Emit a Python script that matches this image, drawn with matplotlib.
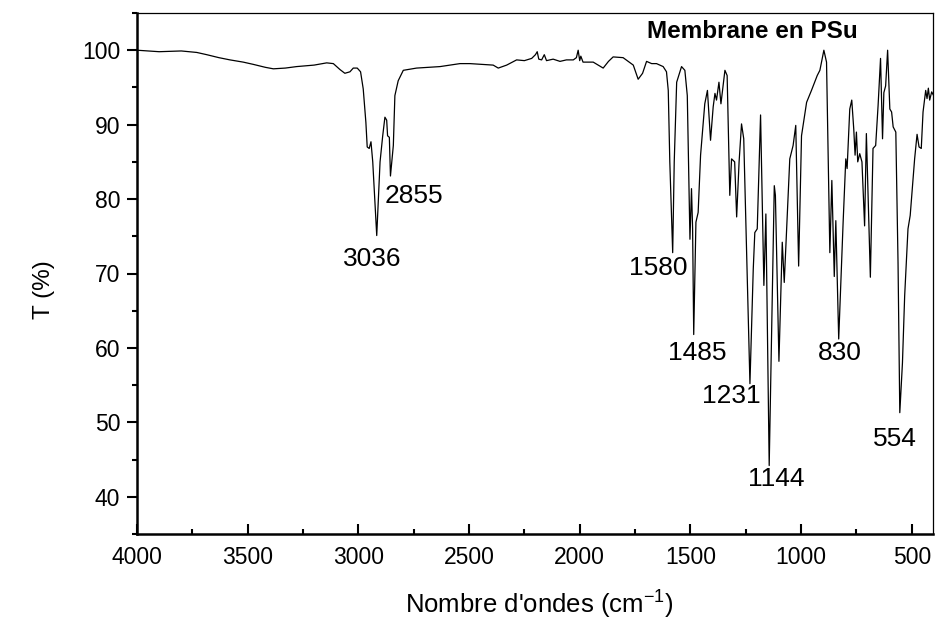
import matplotlib
matplotlib.use("Agg")
import matplotlib.pyplot as plt
from matplotlib.ticker import MultipleLocator

plt.rcParams['font.family'] = ['Liberation Sans', 'DejaVu Sans']
plt.rcParams['mathtext.fontset'] = 'custom'
plt.rcParams['mathtext.rm'] = 'Liberation Sans'
plt.rcParams['mathtext.default'] = 'regular'

# FTIR spectrum of the polysulfone membrane (wavenumber in cm-1, transmittance in %)
wavenumber = [
    4000, 3900, 3800, 3730, 3685, 3630, 3580, 3520, 3475, 3420, 3384, 3330, 3279,
    3200, 3143, 3113, 3083, 3061, 3038, 3023, 3005, 2990, 2978, 2966, 2960, 2951,
    2943, 2935, 2917, 2902, 2890, 2880, 2872, 2868, 2860, 2855, 2842, 2835, 2820,
    2797, 2737, 2631, 2541, 2496, 2391, 2368, 2330, 2285, 2250, 2217, 2200, 2192,
    2185, 2172, 2160, 2150, 2120, 2089, 2060, 2029, 2015, 2007, 2000, 1995, 1985,
    1939, 1894, 1870, 1849, 1804, 1758, 1736, 1716, 1698, 1675, 1653, 1623, 1608,
    1600, 1593, 1580, 1573, 1562, 1540, 1525, 1514, 1502, 1495, 1490, 1485, 1475,
    1465, 1454, 1435, 1423, 1409, 1397, 1389, 1382, 1371, 1362, 1344, 1334, 1322,
    1314, 1300, 1291, 1280, 1269, 1259, 1231, 1216, 1209, 1198, 1183, 1168, 1159,
    1144, 1121, 1116, 1100, 1085, 1076, 1051, 1036, 1024, 1011, 998, 975, 953,
    927, 915, 897, 885, 870, 861, 850, 843, 830, 810, 798, 792, 780, 771, 762,
    756, 750, 744, 735, 725, 713, 705, 687, 675, 663, 652, 641, 632, 626, 618,
    609, 599, 591, 584, 572, 562, 554, 542, 532, 517, 507, 487, 476, 467, 457,
    449, 437, 431, 425, 419, 410, 401,
]
transmittance = [
    100.0, 99.8, 99.9, 99.7, 99.4, 99.0, 98.7, 98.4, 98.1, 97.7, 97.5, 97.6, 97.8,
    98.0, 98.3, 98.2, 97.4, 96.9, 97.1, 97.6, 97.6, 97.1, 94.8, 90.3, 87.0, 86.8,
    87.7, 85.0, 75.1, 85.0, 88.5, 91.0, 90.6, 88.5, 88.3, 83.1, 87.2, 93.9, 95.9,
    97.3, 97.6, 97.8, 98.2, 98.2, 98.0, 97.6, 98.0, 98.7, 98.6, 98.9, 99.4, 99.8,
    98.8, 98.7, 99.4, 98.6, 98.8, 98.5, 98.7, 98.7, 99.0, 100.0, 98.6, 99.2, 98.4,
    98.4, 97.6, 98.5, 99.1, 99.0, 98.0, 96.1, 96.9, 98.5, 98.2, 98.2, 97.8, 97.1,
    94.6, 85.0, 72.8, 85.0, 95.7, 97.8, 97.3, 93.9, 74.6, 81.4, 76.0, 61.8, 76.9,
    78.2, 85.9, 92.8, 94.6, 87.9, 92.4, 94.2, 93.3, 95.7, 92.8, 97.3, 96.6, 80.5,
    85.4, 85.0, 77.6, 85.0, 90.1, 88.1, 55.2, 70.6, 75.5, 76.0, 91.3, 68.4, 78.0,
    44.2, 81.8, 80.5, 58.2, 74.2, 68.8, 85.4, 87.2, 89.9, 71.0, 88.5, 93.0, 94.6,
    96.6, 97.3, 100.0, 98.4, 72.8, 82.5, 69.6, 77.1, 61.2, 76.9, 85.4, 84.1, 92.1,
    93.3, 89.4, 85.9, 89.0, 85.0, 86.1, 85.0, 76.4, 88.8, 69.5, 86.8, 87.2, 92.6,
    98.9, 88.1, 94.3, 95.2, 100.0, 92.1, 91.7, 89.7, 89.0, 71.5, 51.3, 58.0, 67.0,
    76.0, 77.8, 85.4, 88.7, 87.0, 86.8, 91.7, 94.6, 93.5, 94.9, 93.3, 94.4, 93.9,
]

# Annotated bands and where their labels sit
peak_labels = ["3036", "2855", "1580", "1485", "1231", "1144", "830", "554"]
label_x = [2939, 2747, 1644, 1471, 1316, 1112, 826, 576]
label_y = [71.9, 80.4, 70.7, 59.3, 53.6, 42.4, 59.3, 47.8]

title_text = "Membrane en PSu"

fig = plt.figure(figsize=(9.35, 6.26), dpi=100)
ax = fig.add_axes([137 / 935, 92 / 626, 796 / 935, 521 / 626])

ax.plot(wavenumber, transmittance, color="black", lw=0.9)

for txt, x, y in zip(peak_labels, label_x, label_y):
    ax.text(x, y, txt, ha="center", va="center", fontsize=19)

ax.text(1220, 102.5, title_text, ha="center", va="center",
        fontsize=17.5, fontweight="bold")

ax.set_xlim(4000, 404)
ax.set_ylim(35, 105)

ax.xaxis.set_major_locator(MultipleLocator(500))
ax.xaxis.set_minor_locator(MultipleLocator(250))
ax.yaxis.set_major_locator(MultipleLocator(10))
ax.yaxis.set_minor_locator(MultipleLocator(5))
ax.set_yticks(range(40, 101, 10))

ax.tick_params(axis="x", which="both", direction="in", width=1.5,
               labelsize=16.5, pad=9)
ax.tick_params(axis="x", which="major", length=7)
ax.tick_params(axis="x", which="minor", length=3.6)
ax.tick_params(axis="y", which="both", direction="out", width=1.5,
               labelsize=16.5, pad=5)
ax.tick_params(axis="y", which="major", length=7)
ax.tick_params(axis="y", which="minor", length=3.6)

for side in ("left", "bottom"):
    ax.spines[side].set_linewidth(1.8)
for side in ("top", "right"):
    ax.spines[side].set_linewidth(0.9)

ax.set_xlabel("Nombre d'ondes (cm$^{-1}$)", fontsize=18.5)
ax.set_ylabel("T (%)", fontsize=17.5)
ax.xaxis.set_label_coords(0.505, -0.105)
ax.yaxis.set_label_coords(-0.103, 0.47)

fig.savefig("out.png", dpi=100)
